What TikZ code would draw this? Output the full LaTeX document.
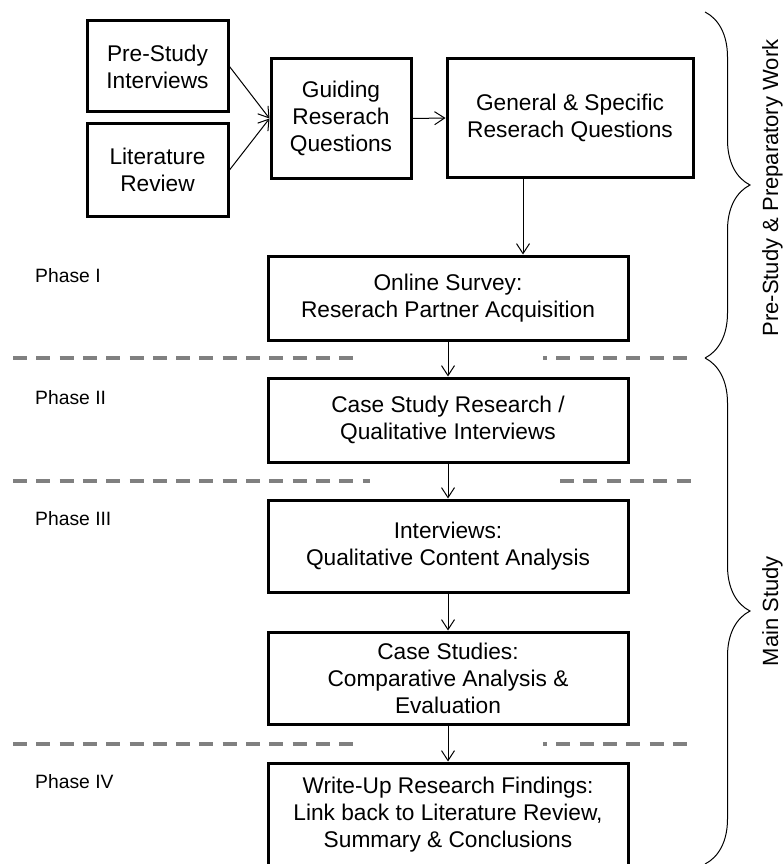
\documentclass[tikz,border=0pt]{standalone}
\usepackage{fontspec}
\setmainfont{Liberation Sans}
\usetikzlibrary{arrows.meta,decorations.pathreplacing}
\definecolor{sepgray}{HTML}{808080}
\begin{document}
\begin{tikzpicture}[x=1pt,y=-1pt,
  stagebox/.style={draw, line width=3pt, inner sep=0pt, align=center,
    font=\fontsize{22.7}{27}\selectfont},
  flow/.style={line width=1pt,
    -{Straight Barb[length=10pt,width=13pt,line width=1pt]}},
  phasesep/.style={draw=sepgray, line width=3.5pt, dash pattern=on 14pt off 9.3pt},
  phaselabel/.style={anchor=base west, inner sep=0pt,
    font=\fontsize{19.3}{23}\selectfont},
  bracket/.style={decorate, decoration={brace, amplitude=45pt}, line width=1pt},
  sidelabel/.style={rotate=90, anchor=base, inner sep=0pt,
    font=\fontsize{22}{26}\selectfont}]
\useasboundingbox (0,0) rectangle (782,864);

% preparatory work
\node[stagebox, minimum width=141pt, minimum height=91pt] (pre) at (157.5,66.5) {Pre-Study\\Interviews};
\node[stagebox, minimum width=141pt, minimum height=92pt] (lit) at (157.5,170) {Literature\\Review};
\node[stagebox, minimum width=140pt, minimum height=119pt] (guide) at (341,118.5) {Guiding\\Reserach\\Questions};
\node[stagebox, minimum width=246pt, minimum height=118pt] (gen) at (570,118) {General \& Specific\\Reserach Questions};

% phases
\node[stagebox, minimum width=360pt, minimum height=84pt] (online) at (448,298) {Online Survey:\\Reserach Partner Acquisition};
\node[stagebox, minimum width=360pt, minimum height=84pt] (case) at (448,420) {Case Study Research /\\Qualitative Interviews};
\node[stagebox, minimum width=360pt, minimum height=92pt] (intv) at (448,546) {Interviews:\\Qualitative Content Analysis};
\node[stagebox, minimum width=360pt, minimum height=92pt] (cs) at (448,678) {Case Studies:\\Comparative Analysis \&\\Evaluation};
\node[stagebox, minimum width=360pt, minimum height=104pt] (wu) at (448,815) {Write-Up Research Findings:\\Link back to Literature Review,\\Summary \& Conclusions};

% connectors
\coordinate (gx) at (523,0);
\draw[flow] (pre.east) -- (guide.west);
\draw[flow] (lit.east) -- (guide.west);
\draw[flow] (guide.east) -- (gen.west);
\draw[flow] (gen.south -| gx) -- (online.north -| gx);
\draw[flow] (online) -- (case);
\draw[flow] (case) -- (intv);
\draw[flow] (intv) -- (cs);
\draw[flow] (cs) -- (wu);

% phase separators
\draw[phasesep] (13,358) -- (361,358);
\draw[phasesep, dash phase=10pt] (543,358) -- (690,358);
\draw[phasesep] (13,481) -- (370,481);
\draw[phasesep] (560,481) -- (695,481);
\draw[phasesep] (13,744) -- (361,744);
\draw[phasesep, dash phase=10pt] (543,744) -- (693,744);

% phase labels
\node[phaselabel] (p1) at (35,282) {Phase I};
\node[phaselabel] (p2) at (35,404) {Phase II};
\node[phaselabel] (p3) at (35,525) {Phase III};
\node[phaselabel] (p4) at (35,788) {Phase IV};

% braces
\draw[bracket] (705,12) -- (705,358);
\draw[bracket] (705,358) -- (705,864);
\node[sidelabel] (prep) at (778,188) {Pre-Study \& Preparatory Work};
\node[sidelabel] (main) at (778,611) {Main Study};
\end{tikzpicture}
\end{document}
